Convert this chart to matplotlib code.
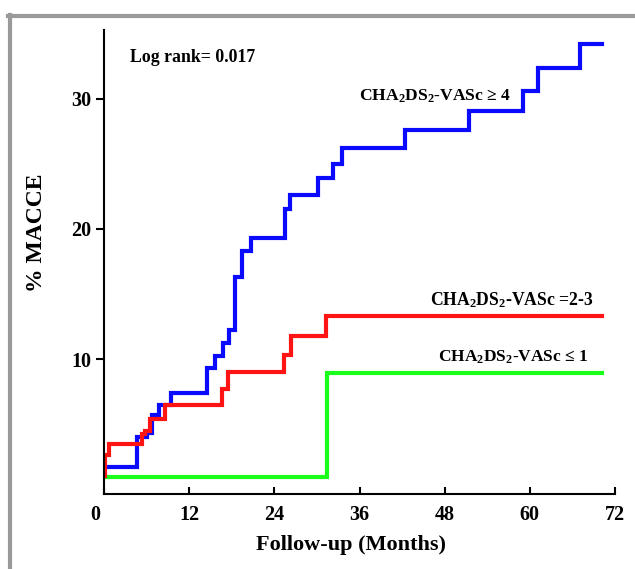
import matplotlib
matplotlib.use("Agg")
import matplotlib.pyplot as plt
from matplotlib.lines import Line2D
from matplotlib.transforms import ScaledTranslation

# Kaplan-Meier style cumulative MACCE (%) per CHA2DS2-VASc group
months_high = [0, 4.6, 6.0, 6.7, 7.7, 9.5, 14.5, 15.6, 16.7, 17.6, 18.5, 19.5,
               20.7, 25.5, 26.2, 30.1, 32.3, 33.5, 42.4, 51.4, 59.1, 61.1, 67.0, 70.1]
macce_high = [1.7, 4.0, 4.3, 5.7, 6.5, 7.4, 9.3, 10.2, 11.2, 12.2, 16.3, 18.3,
              19.3, 21.5, 22.6, 23.9, 25.0, 26.2, 27.6, 29.1, 30.6, 32.4, 34.2, 34.2]

months_mid = [0, 0.1, 0.75, 5.3, 5.8, 6.5, 8.6, 16.6, 17.5, 25.4, 26.4, 31.3, 70.1]
macce_mid = [1.0, 2.6, 3.5, 4.2, 4.5, 5.4, 6.5, 7.7, 9.0, 10.3, 11.8, 13.3, 13.3]

months_low = [0, 31.4, 70.1]
macce_low = [0.9, 8.95, 8.95]

x_ticks = [0, 12, 24, 36, 48, 60, 72]
y_ticks = [10, 20, 30]

FONT = "Liberation Serif"
plt.rcParams["font.family"] = [FONT, "DejaVu Serif"]
plt.rcParams["font.weight"] = "bold"
plt.rcParams["mathtext.fontset"] = "custom"
plt.rcParams["mathtext.rm"] = "Liberation Serif:bold"
plt.rcParams["mathtext.it"] = "Liberation Serif:bold"
plt.rcParams["mathtext.bf"] = "Liberation Serif:bold"

BLUE = "#0a0aff"
RED = "#ff1414"
GREEN = "#1aff1a"

fig = plt.figure(figsize=(6.35, 5.69), dpi=100, facecolor="white")
ax = fig.add_axes([0.1638, 0.1318, 0.8047, 0.8155])

ax.step(months_low, macce_low, where="post", color=GREEN, lw=3, solid_joinstyle="miter")
ax.step(months_high, macce_high, where="post", color=BLUE, lw=3, solid_joinstyle="miter")
ax.step(months_mid, macce_mid, where="post", color=RED, lw=3, solid_joinstyle="miter")

ax.set_xlim(0, 72)
ax.set_ylim(-0.38, 35.3)

for s in ["top", "right"]:
    ax.spines[s].set_visible(False)
for s in ["left", "bottom"]:
    ax.spines[s].set_linewidth(1.5)

ax.set_xticks(x_ticks)
ax.set_xticklabels([str(t) for t in x_ticks])
ax.set_yticks(y_ticks)
ax.set_yticklabels([str(t) for t in y_ticks])
ax.tick_params(axis="x", direction="in", length=5, width=1.5, pad=8, labelsize=14.5)
ax.tick_params(axis="y", direction="out", length=6, width=1.5, pad=3, labelsize=14.5)

# the "0" sits a little left of the axis in the original
lab0 = ax.get_xticklabels()[0]
lab0.set_transform(lab0.get_transform() + ScaledTranslation(-0.09, 0, fig.dpi_scale_trans))

ax.set_ylabel("% MACCE", fontsize=17, fontweight="bold")
ax.yaxis.set_label_coords(-0.112, 0.564)
ax.set_xlabel("Follow-up (Months)", fontsize=16, fontweight="bold")
ax.xaxis.set_label_coords(0.483, -0.088)

ax.text(3.66, 33.2, "Log rank= 0.017", fontsize=12.8, fontweight="bold",
        ha="left", va="center")
ax.text(57.4, 30.2, r"CHA$_2$DS$_2$-VASc ≥ 4", fontsize=12.6, fontweight="bold",
        ha="right", va="center")
ax.text(69.0, 14.5, r"CHA$_2$DS$_2$-VASc =2-3", fontsize=12.7, fontweight="bold",
        ha="right", va="center")
ax.text(68.2, 10.15, r"CHA$_2$DS$_2$-VASc ≤ 1", fontsize=12.5, fontweight="bold",
        ha="right", va="center")

# grey frame (left and top edges visible in the crop)
fig.add_artist(Line2D([9.5 / 635, 9.5 / 635], [0, 1 - 15 / 569],
                      color="#9a9a9a", lw=3, transform=fig.transFigure))
fig.add_artist(Line2D([8 / 635, 1], [1 - 15.5 / 569, 1 - 15.5 / 569],
                      color="#9a9a9a", lw=3, transform=fig.transFigure))

fig.savefig("out.png", dpi=100, facecolor=fig.get_facecolor())
